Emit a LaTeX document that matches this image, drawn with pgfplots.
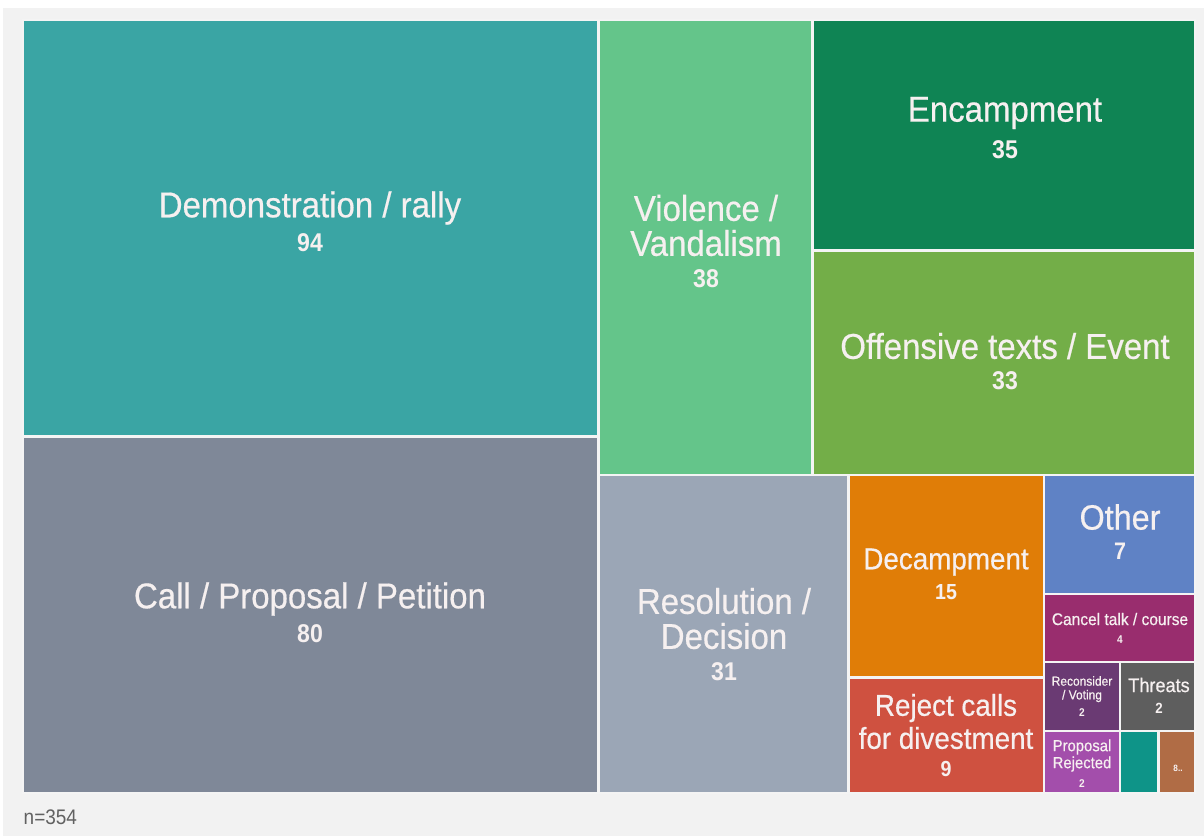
\documentclass[border=0pt]{standalone}
\usepackage{pgfplots}
\pgfplotsset{compat=1.18}
\usepackage{fontspec}
\setmainfont{Liberation Sans}[FakeStretch=0.9]
\newfontfamily\labfont{Liberation Sans}[FakeStretch=0.92,FakeBold=0.5]
\definecolor{cDemo}{HTML}{3AA5A4}
\definecolor{cCall}{HTML}{7F8898}
\definecolor{cViol}{HTML}{64C58A}
\definecolor{cEnc}{HTML}{0F8454}
\definecolor{cOff}{HTML}{73AE48}
\definecolor{cRes}{HTML}{9BA6B6}
\definecolor{cDec}{HTML}{E07D07}
\definecolor{cRej}{HTML}{CF5140}
\definecolor{cOth}{HTML}{5F82C5}
\definecolor{cCan}{HTML}{992D6E}
\definecolor{cRec}{HTML}{6A3A73}
\definecolor{cThr}{HTML}{5E5E5E}
\definecolor{cPro}{HTML}{A34EAB}
\definecolor{cTeal}{HTML}{0E9488}
\definecolor{cBrown}{HTML}{B06C45}
\definecolor{panel}{HTML}{F2F2F2}
\definecolor{lbl}{HTML}{F6F0F0}
\definecolor{sep}{HTML}{F4F4F4}
\newcommand{\fs}[1]{\labfont\fontsize{#1}{#1}\selectfont}
\newcommand{\fb}[1]{\fontsize{#1}{#1}\selectfont\bfseries}
\tikzset{cell/.style={draw=sep,line width=0.6pt},
  lab/.style={text=lbl,align=center,inner sep=0pt}}
\begin{document}
\begin{tikzpicture}
\begin{axis}[scale only axis,width=12.04cm,height=8.36cm,hide axis,
  xmin=0,xmax=1204,ymin=0,ymax=836,y dir=reverse,enlargelimits=false]
 % page and panel
 \addplot[draw=none,fill=white] coordinates {(0,0)(1204,0)(1204,836)(0,836)} -- cycle;
 \addplot[draw=none,fill=panel] coordinates {(3,8)(1204,8)(1204,836)(3,836)} -- cycle;
 % cells: x0,y0 -> x1,y1 in pixels
 \addplot[cell,fill=cDemo] coordinates {(23,20)(598.5,20)(598.5,436.5)(23,436.5)} -- cycle;
 \addplot[cell,fill=cCall] coordinates {(23,436.5)(598.5,436.5)(598.5,793)(23,793)} -- cycle;
 \addplot[cell,fill=cViol] coordinates {(598.5,20)(812.5,20)(812.5,475)(598.5,475)} -- cycle;
 \addplot[cell,fill=cEnc] coordinates {(812.5,20)(1195,20)(1195,250.5)(812.5,250.5)} -- cycle;
 \addplot[cell,fill=cOff] coordinates {(812.5,250.5)(1195,250.5)(1195,475)(812.5,475)} -- cycle;
 \addplot[cell,fill=cRes] coordinates {(598.5,475)(848.5,475)(848.5,793)(598.5,793)} -- cycle;
 \addplot[cell,fill=cDec] coordinates {(848.5,475)(1044,475)(1044,677.5)(848.5,677.5)} -- cycle;
 \addplot[cell,fill=cRej] coordinates {(848.5,677.5)(1044,677.5)(1044,793)(848.5,793)} -- cycle;
 \addplot[cell,fill=cOth] coordinates {(1044,475)(1195,475)(1195,594)(1044,594)} -- cycle;
 \addplot[cell,fill=cCan] coordinates {(1044,594)(1195,594)(1195,662)(1044,662)} -- cycle;
 \addplot[cell,fill=cRec] coordinates {(1044,662)(1120,662)(1120,731)(1044,731)} -- cycle;
 \addplot[cell,fill=cThr] coordinates {(1120,662)(1195,662)(1195,731)(1120,731)} -- cycle;
 \addplot[cell,fill=cPro] coordinates {(1044,731)(1120,731)(1120,793)(1044,793)} -- cycle;
 \addplot[cell,fill=cTeal] coordinates {(1120,731)(1158.5,731)(1158.5,793)(1120,793)} -- cycle;
 \addplot[cell,fill=cBrown] coordinates {(1158.5,731)(1195,731)(1195,793)(1158.5,793)} -- cycle;
 % labels
 \node[lab,font=\fs{10.2}] at (axis cs:310,208) {Demonstration / rally};
 \node[lab,font=\fb{7.3}] at (axis cs:310,243) {94};
 \node[lab,font=\fs{10.2}] at (axis cs:310,599) {Call / Proposal / Petition};
 \node[lab,font=\fb{7.3}] at (axis cs:310,634) {80};
 \node[lab,font=\fs{10.2}] at (axis cs:706,208) {Violence /};
 \node[lab,font=\fs{10.2}] at (axis cs:706,243) {Vandalism};
 \node[lab,font=\fb{7.3}] at (axis cs:706,279) {38};
 \node[lab,font=\fs{10.2}] at (axis cs:1005,113) {Encampment};
 \node[lab,font=\fb{7.3}] at (axis cs:1005,150) {35};
 \node[lab,font=\fs{10.2}] at (axis cs:1005,346) {Offensive texts / Event};
 \node[lab,font=\fb{7.3}] at (axis cs:1005,381) {33};
 \node[lab,font=\fs{10.2}] at (axis cs:724,601) {Resolution /};
 \node[lab,font=\fs{10.2}] at (axis cs:724,636) {Decision};
 \node[lab,font=\fb{7.3}] at (axis cs:724,672) {31};
 \node[lab,font=\fs{8.6}] at (axis cs:946,562) {Decampment};
 \node[lab,font=\fb{6.2}] at (axis cs:946,592) {15};
 \node[lab,font=\fs{8.6}] at (axis cs:946,708) {Reject calls};
 \node[lab,font=\fs{8.6}] at (axis cs:946,738) {for divestment};
 \node[lab,font=\fb{6.2}] at (axis cs:946,769) {9};
 \node[lab,font=\fs{10}] at (axis cs:1120,517) {Other};
 \node[lab,font=\fb{6.8}] at (axis cs:1120,551) {7};
 \node[lab,font=\fs{4.8}] at (axis cs:1120,619) {Cancel talk / course};
 \node[lab,font=\fb{3.2}] at (axis cs:1120,640) {4};
 \node[lab,font=\fs{3.7}] at (axis cs:1082,681) {Reconsider};
 \node[lab,font=\fs{3.7}] at (axis cs:1082,696) {/ Voting};
 \node[lab,font=\fb{3.2}] at (axis cs:1082,713) {2};
 \node[lab,font=\fs{5.6}] at (axis cs:1159,685) {Threats};
 \node[lab,font=\fb{4.2}] at (axis cs:1159,708) {2};
 \node[lab,font=\fs{4.6}] at (axis cs:1082,747) {Proposal};
 \node[lab,font=\fs{4.6}] at (axis cs:1082,764) {Rejected};
 \node[lab,font=\fb{3.2}] at (axis cs:1082,784) {2};
 \node[lab,font=\fb{2.6}] at (axis cs:1178,768) {8..};
 \node[anchor=west,inner sep=0pt,text=black!62,font=\fontsize{6}{6}\selectfont] at (axis cs:23,817) {n=354};
\end{axis}
\end{tikzpicture}
\end{document}
